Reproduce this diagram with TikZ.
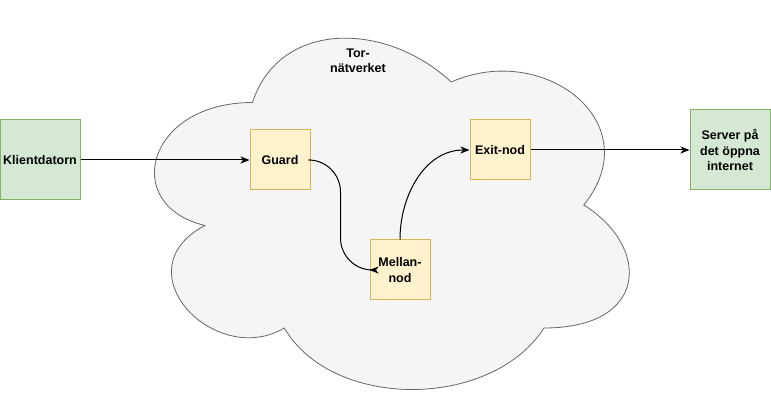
\documentclass[tikz,border=0pt]{standalone}
\usepackage{fontspec}
\setmainfont{Liberation Sans}
\usetikzlibrary{arrows.meta}
\definecolor{gfill}{HTML}{D5E8D4}
\definecolor{gline}{HTML}{82B366}
\definecolor{yfill}{HTML}{FFF2CC}
\definecolor{yline}{HTML}{D6B656}
\definecolor{cfill}{HTML}{F5F5F5}
\definecolor{cline}{HTML}{666666}
\tikzset{
  lbl/.style={font=\fontsize{12.5}{15.5}\selectfont\bfseries, align=center, text=black},
  greenbox/.style={lbl, draw=gline, fill=gfill, line width=1pt, minimum width=80pt, minimum height=80pt, inner sep=0pt},
  yellowbox/.style={lbl, draw=yline, fill=yfill, line width=1pt, minimum width=60pt, minimum height=60pt, inner sep=0pt},
  cloudshape/.style={draw=cline, fill=cfill, line width=0.8pt},
  arr/.style={draw=black, line width=1pt, -{Stealth[length=9pt,width=7pt,inset=2.5pt]}}
}
\begin{document}
\begin{tikzpicture}[x=1pt,y=-1pt]
\useasboundingbox (0,0) rectangle (771,411);
% cloud
\path[cloudshape] (252.5,102.5)
  .. controls (146.5,102.5) and (120,205) .. (204.8,225.5)
  .. controls (120,270.6) and (215.4,369) .. (284.3,328)
  .. controls (332,410) and (491,410) .. (544,328)
  .. controls (650,328) and (650,246) .. (583.75,205)
  .. controls (650,123) and (544,41) .. (451.25,82)
  .. controls (385,20.5) and (279,20.5) .. (252.5,102.5) -- cycle;
\node[lbl] (tor) at (358,61) {Tor-\\nätverket};
% nodes
\node[greenbox] (k) at (40,160) {Klientdatorn};
\node[yellowbox] (g) at (280,160) {Guard};
\node[yellowbox] (m) at (400,270) {Mellan-\\nod};
\node[yellowbox] (e) at (500,150) {Exit-nod};
\node[greenbox] (s) at (730,150) {Server på\\det öppna\\internet};
% edges
\draw[arr] (k) -- (g);
\draw[arr, rounded corners=32pt] (g.east) -- ++(30,0) |- (m.west);
\draw[arr] (m.north) to[out=90,in=180] (e.west);
\draw[arr] (e) -- (s);
\end{tikzpicture}
\end{document}
